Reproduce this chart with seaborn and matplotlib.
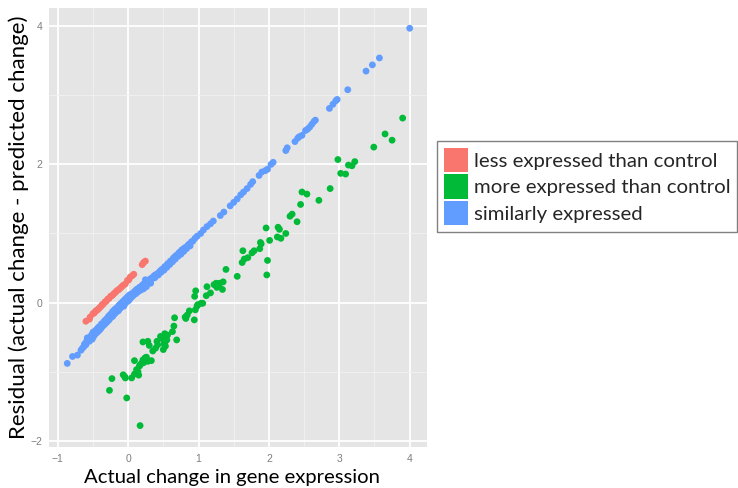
import pandas as pd
import numpy as np
import seaborn as sns
import matplotlib.pyplot as plt
from matplotlib.patches import Patch
from matplotlib.ticker import MultipleLocator

# category names and colours (ggplot defaults)
labels = ["less expressed than control", "more expressed than control", "similarly expressed"]
colors = ["#F8766D", "#00BA38", "#619CFF"]

# similarly expressed
blue_x = [-0.865, -0.79, -0.72, -0.67, -0.65, -0.63, -0.62, -0.60, -0.59, -0.57, -0.56, -0.55,
          -0.53, -0.52, -0.51, -0.50, -0.49, -0.48, -0.47, -0.46, -0.45, -0.44, -0.43, -0.42,
          -0.41, -0.40, -0.39, -0.38, -0.37, -0.36, -0.35, -0.34, -0.33, -0.32, -0.31, -0.30,
          -0.29, -0.28, -0.27, -0.26, -0.25, -0.24, -0.23, -0.22, -0.21, -0.20, -0.19, -0.18,
          -0.17, -0.16, -0.15, -0.14, -0.13, -0.12, -0.11, -0.10, -0.09, -0.08, -0.07, -0.06,
          -0.05, -0.04, -0.03, -0.02, -0.01, 0.00, 0.01, 0.02, 0.03, 0.04, 0.05, 0.06,
          0.07, 0.08, 0.09, 0.10, 0.11, 0.12, 0.13, 0.14, 0.15, 0.16, 0.17, 0.18,
          0.19, 0.20, 0.21, 0.22, 0.23, 0.245, 0.25, 0.27, 0.28, 0.30, 0.31, 0.33,
          0.34, 0.36, 0.37, 0.39, 0.40, 0.42, 0.44, 0.46, 0.48, 0.50, 0.52, 0.54,
          0.56, 0.58, 0.60, 0.62, 0.64, 0.66, 0.68, 0.70, 0.72, 0.74, 0.76, 0.78,
          0.80, 0.82, 0.85, 0.87, 0.90, 0.92, 0.95, 0.98,
          -0.58, -0.54, -0.50, -0.46, -0.42, -0.38, -0.34, -0.30, -0.26, -0.22, -0.18, -0.14,
          -0.10, -0.06, -0.02, 0.02, 0.06, 0.10, 0.14, 0.18, 0.22, 0.26, 0.32, 0.38,
          0.43, 0.47, 0.51, 0.55, 0.59, 0.63, 0.67, 0.71, 0.75, 0.79, 0.83, 0.88,
          1.03, 1.07, 1.12, 1.17, 1.21, 1.31, 1.36, 1.45, 1.50, 1.55, 1.60, 1.64,
          1.69, 1.74, 1.77, 1.86, 1.90, 1.95, 1.98, 2.03, 2.06, 2.24, 2.26, 2.37,
          2.41, 2.43, 2.47, 2.52, 2.55, 2.58, 2.61, 2.64, 2.66, 2.86, 2.91, 2.95,
          2.97, 3.12, 3.38, 3.47, 3.57, 4.00]
blue_y = [-0.88, -0.78, -0.76, -0.69, -0.66, -0.64, -0.60, -0.61, -0.56, -0.55, -0.52, -0.56,
          -0.50, -0.47, -0.53, -0.45, -0.49, -0.42, -0.46, -0.40, -0.44, -0.38, -0.42, -0.36,
          -0.40, -0.34, -0.38, -0.31, -0.35, -0.30, -0.33, -0.27, -0.31, -0.25, -0.29, -0.23,
          -0.27, -0.20, -0.25, -0.18, -0.22, -0.16, -0.20, -0.13, -0.18, -0.11, -0.16, -0.09,
          -0.14, -0.08, -0.11, -0.05, -0.10, -0.03, -0.08, -0.01, -0.06, 0.01, -0.04, 0.03,
          -0.02, 0.05, 0.00, 0.07, 0.02, 0.09, 0.03, 0.11, 0.06, 0.12, 0.08, 0.13,
          0.10, 0.15, 0.12, 0.17, 0.13, 0.19, 0.15, 0.20, 0.17, 0.22, 0.19, 0.23,
          0.21, 0.25, 0.22, 0.27, 0.24, 0.33, 0.26, 0.29, 0.31, 0.30, 0.34, 0.33,
          0.36, 0.36, 0.39, 0.38, 0.41, 0.41, 0.44, 0.46, 0.48, 0.49, 0.52, 0.53,
          0.56, 0.57, 0.60, 0.61, 0.64, 0.66, 0.68, 0.69, 0.72, 0.73, 0.76, 0.77,
          0.79, 0.80, 0.83, 0.85, 0.88, 0.89, 0.93, 0.96,
          -0.51, -0.50, -0.43, -0.43, -0.36, -0.35, -0.28, -0.27, -0.20, -0.20, -0.12, -0.12,
          -0.04, -0.05, 0.04, 0.06, 0.11, 0.14, 0.16, 0.18, 0.20, 0.23, 0.28, 0.36,
          0.40, 0.44, 0.47, 0.51, 0.55, 0.59, 0.63, 0.67, 0.70, 0.74, 0.78, 0.82,
          1.00, 1.05, 1.10, 1.14, 1.18, 1.26, 1.31, 1.40, 1.45, 1.50, 1.56, 1.60,
          1.65, 1.71, 1.75, 1.84, 1.89, 1.91, 1.93, 2.00, 2.03, 2.20, 2.24, 2.33,
          2.38, 2.40, 2.42, 2.49, 2.51, 2.54, 2.58, 2.62, 2.64, 2.81, 2.87, 2.92,
          2.94, 3.08, 3.35, 3.44, 3.54, 3.97]

# less expressed than control
red_x = [-0.60, -0.55, -0.54, -0.50, -0.48, -0.46, -0.44, -0.42, -0.40, -0.38, -0.37, -0.35,
         -0.33, -0.31, -0.29, -0.27, -0.25, -0.23, -0.21, -0.19, -0.17, -0.15, -0.13, -0.11,
         -0.09, -0.07, -0.04, -0.01, 0.01, 0.03, 0.06, 0.08, 0.20, 0.22, 0.245]
red_y = [-0.27, -0.24, -0.21, -0.16, -0.15, -0.12, -0.11, -0.09, -0.07, -0.05, -0.03, -0.02,
         0.01, 0.02, 0.05, 0.06, 0.09, 0.10, 0.12, 0.14, 0.16, 0.18, 0.19, 0.21,
         0.23, 0.25, 0.27, 0.32, 0.33, 0.37, 0.39, 0.41, 0.55, 0.58, 0.60]

# more expressed than control
green_x = [0.17, -0.265, -0.02, -0.23, -0.07, -0.05, -0.04, 0.05, 0.09, 0.15, 0.09, 0.16,
           0.14, 0.12, 0.17, 0.19, 0.21, 0.24, 0.26, 0.22, 0.28, 0.33, 0.21, 0.28,
           0.30, 0.35, 0.39, 0.41, 0.42, 0.46, 0.48, 0.52, 0.53, 0.54, 0.51, 0.50,
           0.55, 0.56, 0.53, 0.65, 0.66, 0.69, 0.63, 0.82, 0.81, 0.84, 0.87, 0.94,
           0.955, 0.945, 0.96, 0.98, 0.99, 1.035, 1.06, 1.11, 1.12, 1.17, 1.22, 1.25,
           1.29, 1.30, 1.34, 1.35, 1.26, 1.39, 1.55, 1.62, 1.65, 1.70, 1.63, 1.76,
           1.79, 1.87, 1.88, 1.89, 1.98, 1.97, 2.01, 1.96, 2.13, 2.15, 2.24, 2.12,
           2.17, 2.40, 2.30, 2.33, 2.45, 2.47, 2.54, 2.71, 2.87, 3.02, 3.09, 2.98,
           3.13, 3.18, 3.22, 3.49, 3.65, 3.75, 3.90]
green_y = [-1.78, -1.27, -1.38, -1.10, -1.045, -1.07, -1.09, -1.09, -1.035, -1.05, -0.84, -0.92,
           -1.00, -0.97, -0.90, -0.88, -0.83, -0.80, -0.79, -0.87, -0.85, -0.84, -0.57, -0.56,
           -0.62, -0.70, -0.66, -0.56, -0.61, -0.49, -0.52, -0.45, -0.56, -0.47, -0.60, -0.68,
           -0.54, -0.47, -0.63, -0.34, -0.22, -0.54, -0.42, -0.23, -0.21, -0.18, -0.12, -0.25,
           -0.105, 0.09, 0.17, -0.05, -0.03, -0.01, -0.01, 0.10, 0.23, 0.14, 0.26, 0.28,
           0.25, 0.28, 0.19, 0.30, 0.22, 0.48, 0.38, 0.58, 0.63, 0.65, 0.75, 0.72,
           0.75, 0.78, 0.87, 0.85, 0.61, 0.40, 0.90, 1.08, 1.09, 1.06, 1.00, 0.95,
           0.93, 1.17, 1.25, 1.28, 1.42, 1.60, 1.57, 1.48, 1.65, 1.87, 1.86, 2.07,
           1.99, 1.98, 2.04, 2.25, 2.44, 2.35, 2.67]

df = pd.concat([
    pd.DataFrame({"actual": red_x, "residual": red_y, "group": labels[0]}),
    pd.DataFrame({"actual": green_x, "residual": green_y, "group": labels[1]}),
    pd.DataFrame({"actual": blue_x, "residual": blue_y, "group": labels[2]}),
])

sns.set_theme(style="darkgrid", rc={
    "axes.facecolor": "#E5E5E5",
    "grid.color": "white",
})
plt.rcParams["font.family"] = ["Lato", "DejaVu Sans"]

fig = plt.figure(figsize=(7.38, 4.88), dpi=100)
ax = fig.add_axes([0.0664, 0.084, 0.512, 0.9006])

sns.scatterplot(data=df, x="actual", y="residual", hue="group",
                palette=dict(zip(labels, colors)), s=24, linewidth=0,
                legend=False, ax=ax, zorder=3)

ax.set_xlim(-1.124, 4.244)
ax.set_ylim(-2.09, 4.27)
ax.xaxis.set_major_locator(MultipleLocator(1))
ax.yaxis.set_major_locator(MultipleLocator(2))
ax.xaxis.set_minor_locator(MultipleLocator(0.5))
ax.yaxis.set_minor_locator(MultipleLocator(1))
ax.grid(which="major", color="white", linewidth=1.3)
ax.grid(which="minor", color="#F2F2F2", linewidth=0.6)
for side in ax.spines.values():
    side.set_visible(False)

ax.tick_params(which="major", length=3, color="#7F7F7F", width=0.8,
               labelsize=7.5, labelcolor="#7F7F7F", pad=2)
ax.tick_params(which="minor", length=0)
ax.set_xticks([-1, 0, 1, 2, 3, 4])
ax.set_xticklabels(["\u22121", "0", "1", "2", "3", "4"])
ax.set_yticks([-2, 0, 2, 4])
ax.set_yticklabels(["\u22122", "0", "2", "4"])
for t in ax.get_xticklabels() + ax.get_yticklabels():
    t.set_family("Liberation Sans")

ax.set_xlabel("Actual change in gene expression", fontsize=14.6, color="black", labelpad=3)
ax.xaxis.set_label_coords(0.483, -0.05, transform=ax.transAxes)
ax.xaxis.label.set_va("top")
ax.set_ylabel("Residual (actual change - predicted change)", fontsize=16, color="black", labelpad=0.5)

handles = [Patch(facecolor=c, edgecolor="none") for c in colors]
leg = fig.legend(handles, labels, loc="upper left", bbox_to_anchor=(0.592, 0.712),
                 fontsize=14.7, frameon=True, fancybox=False, framealpha=1,
                 facecolor="white", edgecolor="#808080",
                 handlelength=1.15, handleheight=1.45,
                 handletextpad=0.3, labelspacing=0.12, borderpad=0.35,
                 borderaxespad=0)
leg.get_frame().set_linewidth(1.0)

fig.savefig("out.png", dpi=100)
